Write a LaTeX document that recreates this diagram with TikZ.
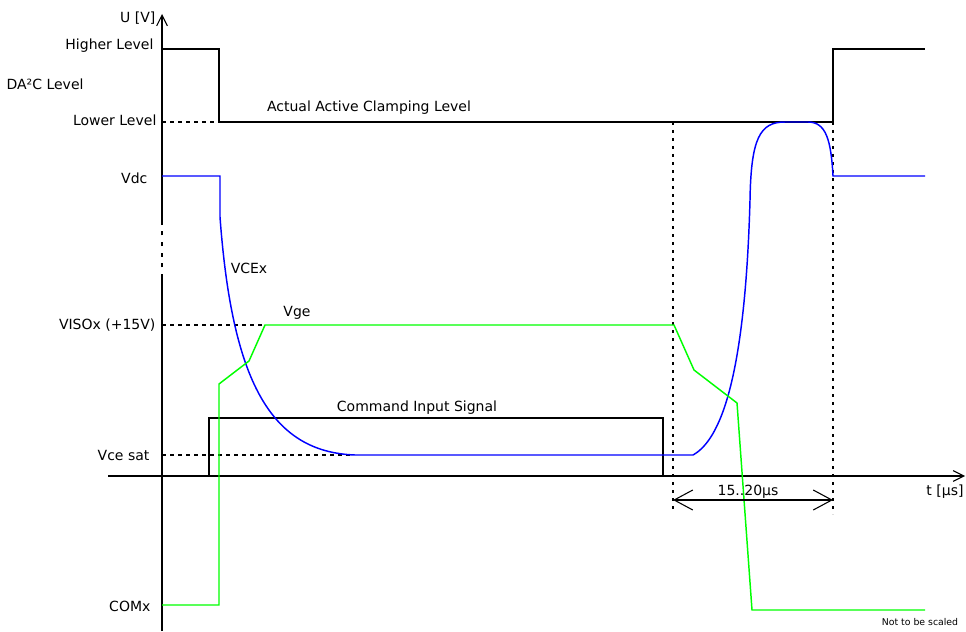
\documentclass[tikz,border=0pt]{standalone}
\usepackage{fontspec}
\setmainfont{DejaVu Sans}
\usetikzlibrary{arrows.meta}
\tikzset{
  lbl/.style={font=\fontsize{10.5}{12}\selectfont, inner sep=1pt},
  lvl/.style={lbl, anchor=east},
  sig/.style={line width=1pt},
  vce/.style={line width=1.1pt, draw=blue},
  vge/.style={line width=1.1pt, draw=green},
  guide/.style={line width=0.8pt, dash pattern=on 3pt off 3pt},
  mark line/.style={line width=0.9pt, dash pattern=on 2.5pt off 3.5pt},
  axtip/.style={-{Straight Barb[length=8pt,width=8pt]}},
}
\begin{document}
\begin{tikzpicture}[x=0.75pt, y=-0.75pt]
  \useasboundingbox (0,0) rectangle (966,631);
  % assi
  \draw[line width=0.8pt] (162,631) -- (162,278);
  \draw[line width=0.8pt, dash pattern=on 3pt off 5pt] (162,278) -- (162,225);
  \draw[line width=0.8pt, axtip] (162,225) -- (162,14);
  \draw[line width=0.8pt, axtip] (108,476) -- (965,476);
  \node[lvl] (uax) at (157,18) {U [V]};
  \node[lbl] (tax) at (945,492) {t [µs]};
  % livelli
  \node[lvl] (hi) at (155,46) {Higher Level};
  \node[lbl, anchor=west] (da2c) at (5,84) {DA²C Level};
  \node[lvl] (lo) at (158,120) {Lower Level};
  \node[lvl] (vdc) at (149,178) {Vdc};
  \node[lvl] (viso) at (157,325) {VISOx (+15V)};
  \node[lvl] (vcesat) at (151,455) {Vce sat};
  \node[lvl] (comx) at (152,606) {COMx};
  % linee guida
  \draw[guide] (162,122) -- (219,122);
  \draw[guide] (162,325) -- (265,325);
  \draw[guide] (162,455) -- (350,455);
  \draw[mark line] (673,122) -- (673,510);
  \draw[mark line] (833,122) -- (833,514);
  % livello di clamping
  \draw[sig] (162,49) -- (219,49) -- (219,122) -- (833,122) -- (833,49) -- (925,49);
  \node[lbl] (clamp) at (369,108) {Actual Active Clamping Level};
  % segnale di comando
  \draw[sig] (209,476) -- (209,418) -- (663,418) -- (663,476);
  \node[lbl] (cmd) at (417,408) {Command Input Signal};
  % VCEx
  \draw[vce] (162,176) -- (220,176) -- (220,217)
    .. controls (232,380) and (270,452) .. (355,455) -- (693,455)
    .. controls (720,440) and (745,380) .. (750,200)
    .. controls (751,138) and (760,122) .. (785,122) -- (808,122)
    .. controls (826,122) and (831,140) .. (833,176) -- (925,176);
  \node[lbl] (vcex) at (249,268) {VCEx};
  % Vge
  \draw[vge] (162,605) -- (219,605) -- (219,384) -- (249,361) -- (265,325)
    -- (674,325) -- (694,370) -- (737,403) -- (752,610) -- (925,610);
  \node[lbl] (vge) at (297,313) {Vge};
  % quota 15..20us
  \draw[line width=0.8pt, {Straight Barb[length=14pt,width=15pt]}-{Straight Barb[length=14pt,width=15pt]}] (673,500) -- (833,500);
  \node[lbl] (dt) at (748,492) {15..20µs};
  \node[font=\fontsize{7}{8}\selectfont, inner sep=1pt] (note) at (920,622) {Not to be scaled};
\end{tikzpicture}
\end{document}
